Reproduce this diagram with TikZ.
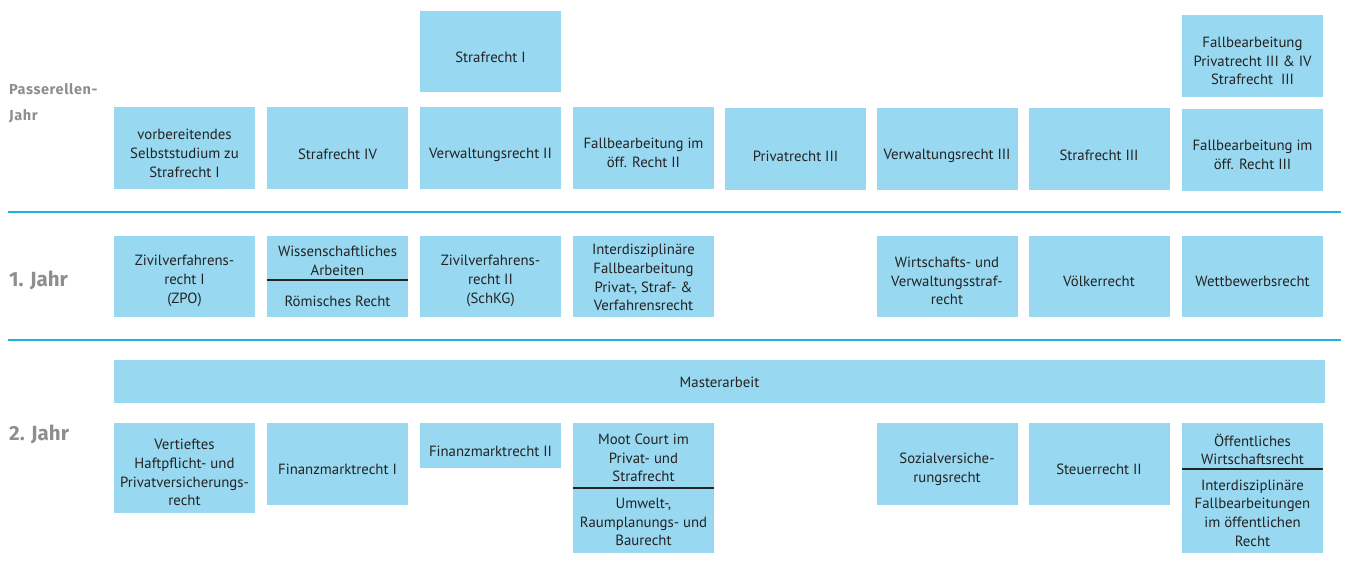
\documentclass[tikz,border=0pt]{standalone}
\usepackage{fontspec}
\setmainfont{PT Sans}
\newfontfamily\labfont[LetterSpace=4]{Fira Sans}
\newfontfamily\labfontb{Fira Sans}
\definecolor{boxblue}{HTML}{98D8F0}
\definecolor{rulecol}{HTML}{1DB4E2}
\definecolor{txt}{HTML}{232323}
\definecolor{labgray}{HTML}{8E8E8E}
% \mybox{name}{x}{y}{height}{text shift}{text}
\newcommand\mybox[6]{%
  \node[box, minimum height=#4pt] (#1) at (#2,#3) {};
  \node[tx] (#1t) at ([yshift=-#5pt]#1.center) {#6};}
\begin{document}
\begin{tikzpicture}[x=1pt,y=-1pt,
  box/.style={fill=boxblue, inner sep=0pt, minimum width=141pt},
  tx/.style={inner sep=0pt, text=txt, align=center, font=\fontsize{14.8}{18.7}\selectfont},
  divider/.style={draw=txt, line width=1.1pt},
  sep/.style={draw=rulecol, line width=2pt},
  lab/.style={anchor=west, inner sep=0pt, text=labgray, align=left}]
\useasboundingbox (0,0) rectangle (1347,571);

% left labels
\node[lab, font=\labfont\bfseries\fontsize{14.5}{26}\selectfont, anchor=north west] (lp) at (9,83) {Passerellen-\\Jahr};
\node[lab, font=\labfontb\bfseries\fontsize{20.5}{22}\selectfont] (l1) at (9,280) {1. Jahr};
\node[lab, font=\labfontb\bfseries\fontsize{20.5}{22}\selectfont] (l2) at (9,434) {2. Jahr};

% separators
\coordinate (s1a) at (8,212); \coordinate (s1b) at (1341,212);
\coordinate (s2a) at (8,340); \coordinate (s2b) at (1341,340);
\draw[sep] (s1a) -- (s1b);
\draw[sep] (s2a) -- (s2b);

% top extra boxes
\mybox{t3}{490.5}{51.5}{81}{5.5}{Strafrecht I}
\mybox{t8}{1252.5}{56}{82}{5}{Fallbearbeitung\\Privatrecht III \& IV\\Strafrecht~~III}

% Passerellen row
\mybox{p1}{184.5}{148}{82}{5.5}{vorbereitendes\\Selbststudium zu\\Strafrecht I}
\mybox{p2}{337.5}{148}{82}{6.5}{Strafrecht IV}
\mybox{p3}{490.5}{148}{82}{6.5}{Verwaltungsrecht II}
\mybox{p4}{643.5}{148}{82}{5}{Fallbearbeitung im\\öff. Recht II}
\mybox{p5}{795.5}{149}{82}{7}{Privatrecht III}
\mybox{p6}{947}{149}{82}{6.5}{Verwaltungsrecht III}
\mybox{p7}{1099}{149}{82}{6.5}{Strafrecht III}
\mybox{p8}{1252.5}{149.5}{82}{5}{Fallbearbeitung im\\öff. Recht III}

% 1. Jahr
\mybox{a1}{184.5}{276.5}{81}{4.5}{Zivilverfahrens-\\recht I\\(ZPO)}
\node[box, minimum height=81pt] (a2) at (337.5,276.5) {};
\node[tx] (a2u) at (337.5,260.5) {Wissenschaftliches\\Arbeiten};
\node[tx] (a2l) at (337.5,301) {Römisches Recht};
\draw[divider] (a2.west |- 0,280) -- (a2.east |- 0,280);
\mybox{a3}{490.5}{276.5}{81}{4.5}{Zivilverfahrens-\\recht II\\(SchKG)}
\mybox{a4}{643.5}{276.5}{81}{1}{Interdisziplinäre\\Fallbearbeitung\\Privat-, Straf- \&\\Verfahrensrecht}
\mybox{a6}{947}{276.5}{81}{4.5}{Wirtschafts- und\\Verwaltungsstraf-\\recht}
\mybox{a7}{1099}{276.5}{81}{4.5}{Völkerrecht}
\mybox{a8}{1252.5}{276.5}{81}{4.5}{Wettbewerbsrecht}

% Masterarbeit
\node[box, minimum width=1211pt, minimum height=43pt] (m) at (719.5,381.5) {};
\node[tx] (mt) at ([yshift=-1pt]m.center) {Masterarbeit};

% 2. Jahr
\mybox{b1}{184.5}{468}{90}{4.5}{Vertieftes\\Haftpflicht- und\\Privatversicherungs-\\recht}
\mybox{b2}{337.5}{464}{82}{5}{Finanzmarktrecht I}
\mybox{b3}{490.5}{445.5}{45}{5.5}{Finanzmarktrecht II}
\node[box, minimum height=130pt] (b4) at (643.5,488) {};
\node[tx] (b4u) at (643.5,458) {Moot Court im\\Privat- und\\Strafrecht};
\node[tx] (b4l) at (643.5,522) {Umwelt-,\\Raumplanungs- und\\Baurecht};
\draw[divider] (b4.west |- 0,488) -- (b4.east |- 0,488);
\mybox{b6}{947}{464}{82}{5.5}{Sozialversiche-\\rungsrecht}
\mybox{b7}{1099}{464}{82}{5}{Steuerrecht II}
\node[box, minimum height=130pt] (b8) at (1252.5,488) {};
\node[tx] (b8u) at (1252.5,449.5) {Öffentliches\\Wirtschaftsrecht};
\node[tx] (b8l) at (1252.5,513) {Interdisziplinäre\\Fallbearbeitungen\\im öffentlichen\\Recht};
\draw[divider] (b8.west |- 0,469) -- (b8.east |- 0,469);
\end{tikzpicture}
\end{document}
